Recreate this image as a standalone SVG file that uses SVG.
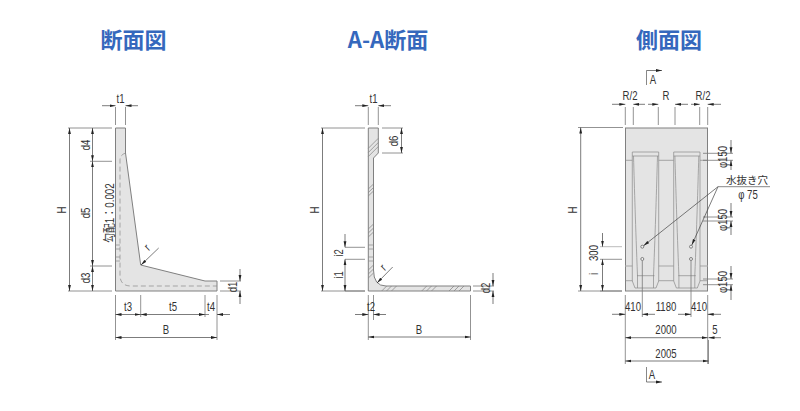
<svg xmlns="http://www.w3.org/2000/svg" width="800" height="411" viewBox="0 0 800 411">
<style>
.ti{font-family:"Noto Sans CJK JP","Liberation Sans",sans-serif;font-weight:700;font-size:22px;fill:#3568bd;text-anchor:middle}
.l{font-family:"Liberation Sans","Noto Sans CJK JP",sans-serif;font-size:12px;fill:#333;text-anchor:middle}
.j{font-family:"Noto Sans CJK JP","Liberation Sans",sans-serif;font-size:10.500px;fill:#333}
.b{fill:#e4e4e4;stroke:#808080;stroke-width:1}
.d{fill:none;stroke:#555;stroke-width:.7}
.a{fill:none;stroke:#444;stroke-width:.7;marker-end:url(#ar)}
.e{fill:none;stroke:#777;stroke-width:.8}
.p{fill:none;stroke:#8a8a8a;stroke-width:.7}
.dash{fill:none;stroke:#8a8a8a;stroke-width:.7;stroke-dasharray:5 3}
.h{fill:none;stroke:#808080;stroke-width:.7}
.hole{fill:#f2f2f2;stroke:#555;stroke-width:.7}
</style>
<defs>
<marker id="ar" markerUnits="userSpaceOnUse" markerWidth="7" markerHeight="4" refX="6" refY="2" orient="auto"><path d="M0 .6L6 2L0 3.400Z" fill="#222"/></marker>
</defs>
<text class="ti" x="133.500" y="47.500">断面図</text>
<text class="ti" x="388" y="47.500">A-A断面</text>
<text class="ti" x="669" y="47.500">側面図</text>

<g id="section">
<path class="b" d="M115.500 128H125.500V153L140.700 265L205 281H217V291H115.500Z"/>
<path class="dash" d="M125.500 153Q120 155 120 160V275Q120 286 131 286H217"/>
<path class="p" d="M115.500 245H120M115.500 249H120M115.500 257H120M115.500 261H120"/>
</g>
<g id="section-aa">
<path class="b" d="M368.300 128H378.300V153L373.500 158V270Q373.500 286 386 286H470.500V291H368.300Z"/>
<path class="h" d="M368.300 148.300L378.300 138.300M368.300 152.500L378.300 142.500M368.300 156.500L378.300 146.500M368.300 189L373.500 184M368.300 192.500L373.500 187.500M368.300 196L373.500 191M368.300 229L373.500 224M368.300 233L373.500 228M368.300 237L373.500 232M368.300 270L373.500 265M368.300 274L373.500 269M368.300 278L373.500 273"/>
<path class="p" d="M368.300 245H373.500M368.300 249H373.500M368.300 257H373.500M368.300 261H373.500"/>
<path class="h" d="M381.700 291L386.700 286M386.500 291L391.500 286M391.500 291L396.500 286M421.700 291L426.700 286M426.500 291L431.500 286M431.500 291L436.500 286M449 291L454 286M454 291L459 286M459 291L464 286"/>
</g>
<g id="side-view">
<rect class="b" x="625.500" y="128" width="82" height="163"/>
<path class="p" d="M625.500 160.300H632.300M658.700 160.300H673.700M700 160.300H707.500M625.500 280.700H632.300M658.700 280.700H673.700M700 280.700H707.500"/>
<path d="M625.500 266H632.300M658.700 266H673.700M700 266H707.500" fill="none" stroke="#bbb" stroke-width="1.300"/>
<g id="pocket-1"><path class="p" d="M632.300 152H658.700V281L656 288H635L632.300 281ZM632.300 156H658.700M637 275.700H654.500M637.500 275.700V288M653.500 275.700V288"/>
<path class="p" d="M633.500 156C634.500 190 635.500 225 637.500 276M657.500 156C656.500 190 655.500 225 653.500 276"/></g>
<g id="pocket-2"><path class="p" d="M673.700 152H700V281L697.300 288H676.400L673.700 281ZM673.700 156H700M678.400 275.700H695.800M678.900 275.700V288M694.800 275.700V288"/>
<path class="p" d="M674.900 156C675.900 190 676.900 225 678.900 276M698.800 156C697.800 190 696.800 225 694.800 276"/></g>
<circle class="hole" cx="642.300" cy="246.700" r="1.500"/>
<circle class="hole" cx="691" cy="246.700" r="1.500"/>
<circle class="hole" cx="642.300" cy="259" r="1.500"/>
<circle class="hole" cx="691" cy="259" r="1.500"/>
</g>

<g id="connectors">
<path class="e" d="M115.500 107V125M125.500 107V125M68 128H112M68 291H112M90 161.300H112M90 266H112M115.500 295V340M140.700 295V317M205 295V317M217 295V340M220 281H241M220 291H241"/>
<path class="a" d="M102 105.700H115.500"/><path class="a" d="M138 105.700H125.500"/>
<path class="a" d="M69.500 200V128"/><path class="a" d="M69.500 200V291"/>
<path class="a" d="M92.500 145V128"/><path class="a" d="M92.500 145V161.300"/>
<path class="a" d="M92.500 215V161.300"/><path class="a" d="M92.500 215V266"/>
<path class="a" d="M92.500 278V266"/><path class="a" d="M92.500 278V291"/>
<path class="a" d="M128 314.500H115.500"/><path class="a" d="M128 314.500H140.700"/>
<path class="a" d="M172 314.500H140.700"/><path class="a" d="M172 314.500H205"/>
<path class="a" d="M230 314.500H217"/><path class="d" d="M205 314.500H209"/>
<path class="a" d="M166 337.500H115.500"/><path class="a" d="M166 337.500H217"/>
<path class="a" d="M240 269V281"/><path class="a" d="M240 304V291"/>
<path class="a" d="M158.700 248L141 265"/>
<path class="e" d="M368.300 107V125M378.300 107V125M321 128H365M321 291H365M382 128H403M382 153H403M345 247.300H365M345 259.300H365M345 291H365M368.300 295V340M373.500 295V320M470.500 295V340M473 286H494M473 291H494"/>
<path class="a" d="M355 105.700H368.300"/><path class="a" d="M391 105.700H378.300"/>
<path class="a" d="M322.500 200V128"/><path class="a" d="M322.500 200V291"/>
<path class="a" d="M401.500 141V128"/><path class="a" d="M401.500 141V153"/>
<path class="a" d="M345 234V247.300"/><path class="a" d="M345 275V259.300"/><path class="a" d="M345 275V291"/>
<path class="a" d="M355 314.500H368.300"/><path class="a" d="M386 314.500H373.500"/>
<path class="a" d="M419 337H368.300"/><path class="a" d="M419 337H470.500"/>
<path class="a" d="M493 273V286"/><path class="a" d="M493 304V291"/>
<path class="a" d="M392.700 267L377 283"/>
<path class="e" d="M625.300 107V125M633.300 107V125M658.300 107V125M675 107V125M699.700 107V125M707.700 107V125M578 127.500H623M578 291H622M600 259.300H622M600 291H622M625.300 295V364M707.700 295V364M708.500 340V364M642.300 261V317M691 261V317"/>
<path d="M600 246.700H622" fill="none" stroke="#aaa" stroke-width=".8"/>
<path class="a" d="M612 104.300H625.300"/><path class="a" d="M645 104.300H633.300"/><path class="a" d="M648 104.300H658.300"/>
<path class="a" d="M688 104.300H675"/><path class="a" d="M691 104.300H699.700"/><path class="a" d="M721 104.300H707.700"/>
<path class="d" d="M646.500 85V70.500"/><path class="a" d="M646.500 70.500H662"/>
<path class="d" d="M646.500 367V382"/><path class="a" d="M646.500 382H662"/>
<path class="a" d="M580.700 200V127.500"/><path class="a" d="M580.700 200V291"/>
<path class="a" d="M602.500 233V246.700"/><path class="a" d="M602.500 275V259.300"/><path class="a" d="M602.500 275V291"/>
<path class="a" d="M612 314.300H625.300"/><path class="a" d="M655 314.300H642.300"/><path class="a" d="M678 314.300H691"/><path class="a" d="M721 314.300H707.700"/>
<path class="a" d="M666 337.700H625.300"/><path class="a" d="M666 337.700H707.700"/><path class="a" d="M721 337.700H708.500"/>
<path class="a" d="M666 361H625.300"/><path class="a" d="M666 361H708.500"/>
<path class="e" d="M703 153.300H733M703 160.300H733M703 217H733M703 221H733M703 279H733M703 284.700H733"/>
<path class="a" d="M731 140V153.300"/><path class="a" d="M731 170V160.300"/>
<path class="a" d="M731 203V217"/><path class="a" d="M731 235V221"/>
<path class="a" d="M731 266V279"/><path class="a" d="M731 300V284.700"/>
<path class="d" d="M770 186.700H718"/>
<path class="a" d="M718 186.700L643.500 245.800"/><path class="a" d="M718 186.700L691.800 245"/>
</g>

<g id="labels">
<text class="l" transform="translate(120.500 103) scale(.8 1)">t1</text>
<text class="l" transform="translate(66 210) rotate(-90) scale(.8 1)">H</text>
<text class="l" transform="translate(90 145) rotate(-90) scale(.8 1)">d4</text>
<text class="l" transform="translate(90 213) rotate(-90) scale(.8 1)">d5</text>
<text class="l" transform="translate(90 278) rotate(-90) scale(.8 1)">d3</text>
<text class="l" transform="translate(114 213) rotate(-90) scale(.82 1)">勾配1：0.002</text>
<text class="l" transform="translate(150 250) rotate(-45) scale(.8 1)">r</text>
<text class="l" transform="translate(128 311) scale(.8 1)">t3</text>
<text class="l" transform="translate(173 311) scale(.8 1)">t5</text>
<text class="l" transform="translate(211 311) scale(.8 1)">t4</text>
<text class="l" transform="translate(166 334) scale(.8 1)">B</text>
<text class="l" transform="translate(237 287) rotate(-90) scale(.8 1)">d1</text>
<text class="l" transform="translate(373.500 103) scale(.8 1)">t1</text>
<text class="l" transform="translate(319 210) rotate(-90) scale(.8 1)">H</text>
<text class="l" transform="translate(398 141) rotate(-90) scale(.8 1)">d6</text>
<text class="l" transform="translate(343 253) rotate(-90) scale(.8 1)">i2</text>
<text class="l" transform="translate(343 275) rotate(-90) scale(.8 1)">i1</text>
<text class="l" transform="translate(371 311) scale(.8 1)">t2</text>
<text class="l" transform="translate(386 270) rotate(-45) scale(.8 1)">r</text>
<text class="l" transform="translate(419 334) scale(.8 1)">B</text>
<text class="l" transform="translate(490 288) rotate(-90) scale(.8 1)">d2</text>
<text class="l" transform="translate(653 84) scale(.8 1)">A</text>
<text class="l" transform="translate(630 100) scale(.8 1)">R/2</text>
<text class="l" transform="translate(666 100) scale(.8 1)">R</text>
<text class="l" transform="translate(703 100) scale(.8 1)">R/2</text>
<text class="l" transform="translate(577 210) rotate(-90) scale(.8 1)">H</text>
<text class="l" transform="translate(598 253) rotate(-90) scale(.8 1)">300</text>
<text class="l" transform="translate(598 274) rotate(-90) scale(.8 1)">i</text>
<text class="l" transform="translate(727 157) rotate(-90) scale(.8 1)">φ150</text>
<text class="l" transform="translate(727 220) rotate(-90) scale(.8 1)">φ150</text>
<text class="l" transform="translate(727 282) rotate(-90) scale(.8 1)">φ150</text>
<text class="j" x="726" y="184">水抜き穴</text>
<text class="l" transform="translate(748 199) scale(.8 1)">φ 75</text>
<text class="l" transform="translate(633 311) scale(.8 1)">410</text>
<text class="l" transform="translate(666 311) scale(.8 1)">1180</text>
<text class="l" transform="translate(699 311) scale(.8 1)">410</text>
<text class="l" transform="translate(666 334) scale(.8 1)">2000</text>
<text class="l" transform="translate(715 334) scale(.8 1)">5</text>
<text class="l" transform="translate(666 358) scale(.8 1)">2005</text>
<text class="l" transform="translate(652 379) scale(.8 1)">A</text>
</g>
</svg>
